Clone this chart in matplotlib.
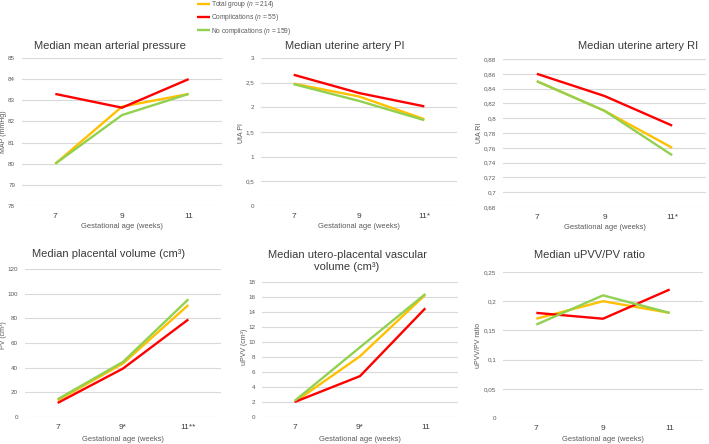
import matplotlib
matplotlib.use("Agg")
import matplotlib.pyplot as plt
from matplotlib.ticker import FuncFormatter

plt.rcParams["font.family"] = ["Liberation Sans", "DejaVu Sans"]
plt.rcParams["mathtext.fontset"] = "custom"
plt.rcParams["mathtext.it"] = "Liberation Sans:italic"
plt.rcParams["mathtext.rm"] = "Liberation Sans"

# data
weeks = ["7", "9", "11"]
groups = ["Total group ($n$ = 214)", "Complications ($n$ = 55)", "No complications ($n$ = 159)"]
colors = ["#FFC000", "#FF0000", "#92D050"]

map_total = [80.0, 82.7, 83.3]
map_comp = [83.3, 82.65, 84.0]
map_nocomp = [80.0, 82.3, 83.3]

pi_total = [2.48, 2.22, 1.76]
pi_comp = [2.66, 2.29, 2.02]
pi_nocomp = [2.47, 2.13, 1.74]

ri_total = [0.85, 0.81, 0.76]
ri_comp = [0.86, 0.83, 0.79]
ri_nocomp = [0.85, 0.81, 0.75]

pv_total = [13.5, 43.4, 90.8]
pv_comp = [11.4, 39.3, 79.1]
pv_nocomp = [14.4, 44.7, 95.4]

upvv_total = [2.0, 8.1, 16.3]
upvv_comp = [2.0, 5.45, 14.5]
upvv_nocomp = [2.15, 9.3, 16.4]

ratio_total = [0.17, 0.20, 0.18]
ratio_comp = [0.18, 0.17, 0.22]
ratio_nocomp = [0.16, 0.21, 0.18]

W, H = 709, 444
fig = plt.figure(figsize=(W / 100, H / 100), dpi=100)


def px(x, y):
    return x / W, 1 - y / H


def comma(v, pos):
    s = ("%.2f" % v).rstrip("0").rstrip(".")
    return s.replace(".", ",")


panels = [
    # box (l, t, r, b), title, title pos, ylabel, ylabel pos, ylim, step, xticks, series, xlabel y
    ((22, 58, 222, 206), "Median mean arterial pressure", (110, 46), "MAP (mmHg)", (4, 132),
     (78, 85), 1, ["7", "9", "11"], (map_total, map_comp, map_nocomp), 226),
    ((261, 58, 457, 206), "Median uterine artery PI", (345, 46), "UtA PI", (241, 133),
     (0, 3), 0.5, ["7", "9", "11*"], (pi_total, pi_comp, pi_nocomp), 226),
    ((503, 59, 706, 207), "Median uterine artery RI", (638, 46), "UtA RI", (480, 133),
     (0.68, 0.88), 0.02, ["7", "9", "11*"], (ri_total, ri_comp, ri_nocomp), 227),
    ((25, 269, 221, 417), "Median placental volume (cm³)", (109, 254), "PV (cm³)", (4, 335),
     (0, 120), 20, ["7", "9*", "11**"], (pv_total, pv_comp, pv_nocomp), 439),
    ((262, 282, 458, 417), "Median utero-placental vascular\nvolume (cm³)", (347, 261), "uPVV (cm³)", (245, 347),
     (0, 18), 2, ["7", "9*", "11"], (upvv_total, upvv_comp, upvv_nocomp), 439),
    ((503, 272, 703, 418), "Median uPVV/PV ratio", (589, 255), "uPVV/PV ratio", (479, 345),
     (0, 0.25), 0.05, ["7", "9", "11"], (ratio_total, ratio_comp, ratio_nocomp), 439),
]

axes = []
for box, title, tpos, ylab, ypos, ylim, step, xt, series, xlab_y in panels:
    l, t, r, b = box
    ax = fig.add_axes([l / W, 1 - b / H, (r - l) / W, (b - t) / H])
    for vals, name, c in zip(series, groups, colors):
        ax.plot(range(len(weeks)), vals, color=c, lw=1.7, label=name, solid_capstyle="butt")
    ax.set_xlim(-0.5, 2.5)
    ax.set_ylim(*ylim)
    n = int(round((ylim[1] - ylim[0]) / step))
    ax.set_yticks([ylim[0] + i * step for i in range(n + 1)])
    ax.yaxis.set_major_formatter(FuncFormatter(comma))
    ax.set_xticks(range(len(weeks)))
    ax.set_xticklabels(xt, fontsize=6, color="#404040")
    ax.tick_params(axis="y", labelsize=4.5, labelcolor="#595959", length=0, pad=5)
    ax.tick_params(axis="x", length=0, pad=5)
    ax.grid(axis="y", color="#d9d9d9", lw=0.8)
    ax.set_axisbelow(True)
    for s in ax.spines.values():
        s.set_visible(False)
    fig.text(*px(*tpos), title, ha="center", va="center", fontsize=8, color="#3a3a3a",
             linespacing=1.2)
    fig.text(*px(*ypos), ylab, ha="center", va="center", rotation=90, fontsize=5, color="#595959")
    fig.text(*px((l + r) / 2, xlab_y), "Gestational age (weeks)", ha="center", va="center",
             fontsize=5.4, color="#595959")
    axes.append(ax)

handles, labels = axes[0].get_legend_handles_labels()
fig.legend(handles, labels, loc="upper left", bbox_to_anchor=px(197, -1), frameon=False,
           fontsize=4.8, handlelength=2.0, handletextpad=0.1, labelspacing=0.35,
           labelcolor="#595959", borderaxespad=0, borderpad=0)

fig.savefig("out.png", dpi=100)
